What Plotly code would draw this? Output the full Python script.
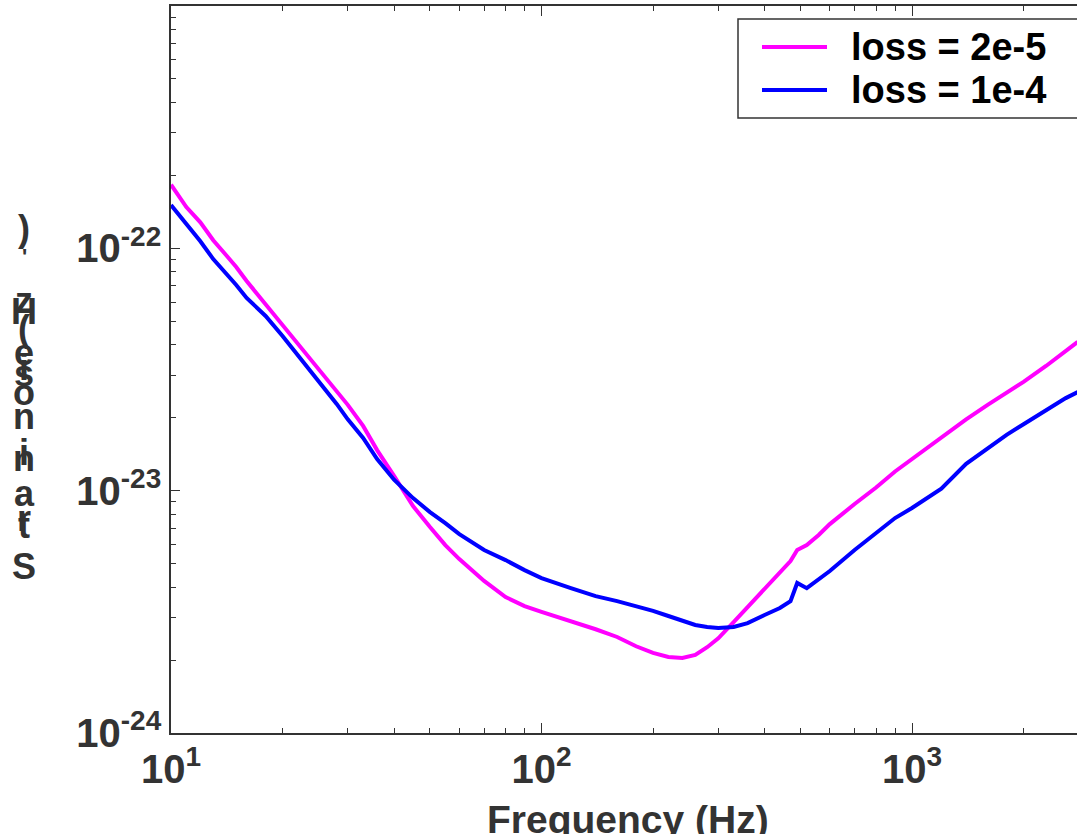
import plotly.graph_objects as go

# ---------------- data ----------------
freq_hz = [10, 11, 12, 13, 14, 15, 16, 18, 20, 22, 25, 28, 30, 33, 36, 40, 45, 50, 55, 60,
           70, 80, 90, 100, 120, 140, 160, 180, 200, 220, 240, 260, 280, 300, 330, 360, 400,
           440, 470, 490, 520, 560, 600, 700, 800, 900, 1000, 1200, 1400, 1600, 1800, 2000,
           2300, 2600, 2800]

strain_loss_2e5 = [1.83e-22, 1.48e-22, 1.28e-22, 1.08e-22, 9.47e-23, 8.37e-23, 7.33e-23, 5.89e-23,
                   4.83e-23, 4.07e-23, 3.21e-23, 2.58e-23, 2.26e-23, 1.85e-23, 1.47e-23, 1.15e-23,
                   8.64e-24, 7.08e-24, 5.96e-24, 5.22e-24, 4.24e-24, 3.64e-24, 3.34e-24, 3.16e-24,
                   2.90e-24, 2.68e-24, 2.49e-24, 2.28e-24, 2.14e-24, 2.06e-24, 2.04e-24, 2.10e-24,
                   2.26e-24, 2.46e-24, 2.87e-24, 3.31e-24, 3.96e-24, 4.61e-24, 5.12e-24, 5.69e-24,
                   5.96e-24, 6.56e-24, 7.28e-24, 8.81e-24, 1.03e-23, 1.20e-23, 1.35e-23, 1.66e-23,
                   1.97e-23, 2.26e-23, 2.53e-23, 2.81e-23, 3.27e-23, 3.77e-23, 4.11e-23]

strain_loss_1e4 = [1.51e-22, 1.27e-22, 1.07e-22, 9.03e-23, 7.98e-23, 7.06e-23, 6.24e-23, 5.26e-23,
                   4.35e-23, 3.63e-23, 2.83e-23, 2.28e-23, 1.97e-23, 1.65e-23, 1.35e-23, 1.11e-23,
                   9.32e-24, 8.16e-24, 7.35e-24, 6.62e-24, 5.69e-24, 5.17e-24, 4.70e-24, 4.36e-24,
                   3.96e-24, 3.67e-24, 3.50e-24, 3.34e-24, 3.19e-24, 3.04e-24, 2.92e-24, 2.79e-24,
                   2.74e-24, 2.71e-24, 2.74e-24, 2.84e-24, 3.07e-24, 3.28e-24, 3.50e-24, 4.16e-24,
                   3.96e-24, 4.32e-24, 4.66e-24, 5.69e-24, 6.68e-24, 7.71e-24, 8.48e-24, 1.02e-23,
                   1.29e-23, 1.50e-23, 1.70e-23, 1.88e-23, 2.15e-23, 2.41e-23, 2.55e-23]

series_names = ["loss = 2e-5", "loss = 1e-4"]

x_tickvals = [10, 100, 1000]
x_ticktext = ["10<sup>1</sup>", "10<sup>2</sup>", "10<sup>3</sup>"]
x_minorvals = [20, 30, 40, 50, 60, 70, 80, 90, 200, 300, 400, 500, 600, 700, 800, 900, 2000]

y_tickvals = [1e-24, 1e-23, 1e-22, 1e-21]
y_ticktext = ["10<sup>-24</sup>", "10<sup>-23</sup>", "10<sup>-22</sup>", "10<sup>-21</sup>"]
y_minorvals = [m * 10.0 ** e for e in (-24, -23, -22) for m in range(2, 10)]

x_title = "Frequency (Hz)"
# y-axis title as rendered in the reference (characters stacked upright, top to bottom)
y_title_chars = [")", "'", "z", "H", "(", "e", "i", "s", "o", "n", "i", "n", "a", "r", "t", "S"]

# ---------------- figure ----------------
FONT = "Liberation Sans, Arial, sans-serif"
GRAY = "#333333"
colors = ["#FF00FF", "#0000FF"]

fig = go.Figure()
for name, ys, c in zip(series_names, [strain_loss_2e5, strain_loss_1e4], colors):
    fig.add_trace(go.Scatter(x=freq_hz, y=ys, mode="lines", name=name,
                             line=dict(color=c, width=4), showlegend=False))

W, H = 1077, 834
ML, MR, MT, MB = 171, 0, 6, 101
PW, PH = W - ML - MR, H - MT - MB


def px2paper_x(px):
    return (px - ML) / PW


def px2paper_y(py):
    return (H - MB - py) / PH


fig.update_layout(
    width=W, height=H,
    margin=dict(l=ML, r=MR, t=MT, b=MB, pad=0),
    paper_bgcolor="white", plot_bgcolor="white",
    font=dict(family=FONT, color=GRAY),
)

fig.update_xaxes(
    type="log", range=[1, 1 + PW / 370.5],
    tickmode="array", tickvals=x_tickvals, ticktext=x_ticktext,
    ticks="inside", ticklen=10, tickwidth=1, tickcolor=GRAY,
    minor=dict(tickmode="array", tickvals=x_minorvals, ticks="inside", ticklen=5,
               tickwidth=1, tickcolor=GRAY, showgrid=False),
    showline=True, linecolor=GRAY, linewidth=1.5, mirror="ticks",
    showgrid=False, zeroline=False,
    tickfont=dict(family=FONT, size=40, color=GRAY, weight="bold"),
)
fig.update_yaxes(
    type="log", range=[-24, -21],
    tickmode="array", tickvals=y_tickvals, ticktext=y_ticktext,
    ticks="inside", ticklen=9, tickwidth=1, tickcolor=GRAY,
    minor=dict(tickmode="array", tickvals=y_minorvals, ticks="inside", ticklen=5,
               tickwidth=1, tickcolor=GRAY, showgrid=False),
    showline=True, linecolor=GRAY, linewidth=1.5, mirror=False,
    showgrid=False, zeroline=False,
    tickfont=dict(family=FONT, size=40, color=GRAY, weight="bold"),
)

# x-axis title, partly cut by the bottom edge as in the reference
fig.add_annotation(text=x_title, xref="paper", yref="paper",
                   x=px2paper_x(628), y=px2paper_y(797), xanchor="center", yanchor="top",
                   showarrow=False, borderpad=0,
                   font=dict(family=FONT, size=39, color=GRAY, weight="bold"))

# y-axis label glyphs (upright, stacked, as the reference renders them)
y_char_pos = [228, 256, 300, 311, 328, 352, 368, 373, 393, 416, 452, 458, 493, 518, 525, 566]
y_char_size = [36, 22, 36, 36, 36, 36, 36, 36, 36, 36, 36, 36, 36, 36, 36, 36]
for ch, py, sz in zip(y_title_chars, y_char_pos, y_char_size):
    fig.add_annotation(text=ch, xref="paper", yref="paper",
                       x=px2paper_x(24), y=px2paper_y(py), xanchor="center", yanchor="middle",
                       showarrow=False,
                       font=dict(family=FONT, size=sz, color=GRAY, weight="bold"))

# legend box (partly outside the window on the right, as in the reference)
fig.add_shape(type="rect", xref="paper", yref="paper",
              x0=px2paper_x(738), x1=px2paper_x(1200), y0=px2paper_y(118), y1=px2paper_y(19),
              line=dict(color=GRAY, width=1.5), fillcolor="white", layer="above")
legend_rows = [47, 90]
for name, c, py in zip(series_names, colors, legend_rows):
    fig.add_shape(type="line", xref="paper", yref="paper",
                  x0=px2paper_x(762), x1=px2paper_x(827), y0=px2paper_y(py), y1=px2paper_y(py),
                  line=dict(color=c, width=4), layer="above")
    fig.add_annotation(text=name, xref="paper", yref="paper",
                       x=px2paper_x(849), y=px2paper_y(py), xanchor="left", yanchor="middle",
                       showarrow=False,
                       font=dict(family=FONT, size=38, color="black", weight="bold"))

fig.write_html("out.html", include_plotlyjs=True, full_html=True,
               config={"displayModeBar": False},
               post_script="document.body.style.margin='0';document.body.style.overflow='hidden';")
